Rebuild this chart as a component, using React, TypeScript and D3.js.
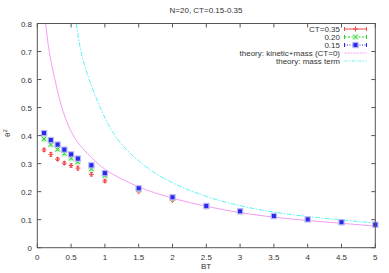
import React from "react";
import * as d3 from "d3";

const W = 389;
const H = 273;
const margin = { top: 23.5, right: 13.7, bottom: 25.3, left: 37.3 };

// measured BT values
const bt = [0.1, 0.2, 0.3, 0.4, 0.5, 0.6, 0.8, 1, 1.5, 2, 2.5, 3, 3.5, 4, 4.5, 5];
const ct035 = [0.349, 0.333, 0.316, 0.302, 0.293, 0.284, 0.262, 0.238, 0.2, 0.169, 0.145, 0.128, 0.111, 0.1, 0.09, 0.081];
const ct035Err = [0.006, 0.007, 0.005, 0.005, 0.006, 0.007, 0.006, 0.005, 0.004, 0.004, 0.003, 0.003, 0.003, 0.003, 0.003, 0.003];
const ct020 = [0.388, 0.368, 0.351, 0.336, 0.319, 0.306, 0.281, 0.257, 0.207, 0.176, 0.148, 0.13, 0.113, 0.101, 0.091, 0.082];
const ct020Err = [0.004, 0.004, 0.004, 0.004, 0.004, 0.004, 0.004, 0.004, 0.003, 0.003, 0.003, 0.003, 0.003, 0.003, 0.003, 0.003];
const ct015 = [0.409, 0.384, 0.368, 0.35, 0.333, 0.318, 0.294, 0.266, 0.212, 0.18, 0.149, 0.13, 0.113, 0.101, 0.091, 0.082];
const ct015Err = [0.004, 0.004, 0.004, 0.004, 0.004, 0.004, 0.004, 0.004, 0.003, 0.003, 0.003, 0.003, 0.003, 0.003, 0.003, 0.003];

// theory curves
const kinBT = [0.123, 0.15, 0.177, 0.22, 0.261, 0.31, 0.36, 0.42, 0.48, 0.56, 0.68, 0.8, 0.9, 1, 1.25, 1.5, 2, 2.5, 3, 3.5, 4, 4.5, 5];
const kinVal = [0.8, 0.745, 0.7, 0.645, 0.6, 0.548, 0.503, 0.46, 0.425, 0.39, 0.352, 0.322, 0.299, 0.28, 0.245, 0.217, 0.177, 0.148, 0.125, 0.109, 0.097, 0.087, 0.077];
const massBT = [0.576, 0.63, 0.7, 0.79, 0.87, 0.95, 1.05, 1.15, 1.3, 1.5, 1.75, 2, 2.5, 3, 3.5, 4, 4.5, 5];
const massVal = [0.8, 0.72, 0.65, 0.585, 0.535, 0.49, 0.44, 0.4, 0.355, 0.31, 0.265, 0.232, 0.183, 0.15, 0.127, 0.111, 0.099, 0.088];

const xTicks = [0, 0.5, 1, 1.5, 2, 2.5, 3, 3.5, 4, 4.5, 5];
const yTicks = [0, 0.1, 0.2, 0.3, 0.4, 0.5, 0.6, 0.7, 0.8];

const RED = "#f04848";
const GREEN = "#28d028";
const BLUE = "#2a2ae8";
const MAGENTA = "#f49cf4";
const CYAN = "#5cf2f2";
const AXIS = "#555";
const FONT = "Liberation Sans, Arial, sans-serif";

export default function App() {
  const x = d3.scaleLinear().domain([0, 5]).range([margin.left, W - margin.right]);
  const y = d3.scaleLinear().domain([0, 0.8]).range([H - margin.bottom, margin.top]);

  const line = d3
    .line<[number, number]>()
    .x((d) => x(d[0]))
    .y((d) => y(d[1]))
    .curve(d3.curveMonotoneX);

  const kin = line(kinBT.map((b, i) => [b, kinVal[i]]) as [number, number][]) || "";
  const mass = line(massBT.map((b, i) => [b, massVal[i]]) as [number, number][]) || "";

  const errBar = (b: number, v: number, e: number, color: string, key: string) => {
    const px = x(b);
    const y1 = y(v + e);
    const y2 = y(v - e);
    return (
      <g key={key} stroke={color} strokeWidth={1}>
        <line x1={px} x2={px} y1={y1} y2={y2} />
        <line x1={px - 1.5} x2={px + 1.5} y1={y1} y2={y1} />
        <line x1={px - 1.5} x2={px + 1.5} y1={y2} y2={y2} />
      </g>
    );
  };

  const plus = (px: number, py: number, color: string, key: string) => (
    <g key={key} stroke={color} strokeWidth={1}>
      <line x1={px - 2.5} x2={px + 2.5} y1={py} y2={py} />
      <line x1={px} x2={px} y1={py - 2.5} y2={py + 2.5} />
    </g>
  );
  const cross = (px: number, py: number, color: string, key: string) => (
    <g key={key} stroke={color} strokeWidth={1}>
      <rect x={px - 3} y={py - 3} width={6} height={6} fill="#c8f4c8" stroke="none" opacity={0.7} />
      <line x1={px - 2.2} x2={px + 2.2} y1={py - 2.2} y2={py + 2.2} />
      <line x1={px - 2.2} x2={px + 2.2} y1={py + 2.2} y2={py - 2.2} />
    </g>
  );
  const square = (px: number, py: number, key: string) => (
    <g key={key}>
      <rect x={px - 3.2} y={py - 3.2} width={6.4} height={6.4} fill="#b8b8f8" />
      <rect x={px - 2} y={py - 2} width={4} height={4} fill={BLUE} />
    </g>
  );

  const legendRows = [
    { label: "CT=0.35", color: RED, dash: undefined, kind: "plus" },
    { label: "0.20", color: GREEN, dash: "2,1.5", kind: "cross" },
    { label: "0.15", color: BLUE, dash: "1,1.5", kind: "square" },
    { label: "theory: kinetic+mass (CT=0)", color: MAGENTA, dash: "2,1", kind: "line" },
    { label: "theory: mass term", color: CYAN, dash: "3,1.5,1,1.5", kind: "line" },
  ];
  const lgX1 = 344.5;
  const lgX2 = 366.5;
  const lgXm = (lgX1 + lgX2) / 2;

  return (
    <svg width={W} height={H} style={{ position: "absolute", left: 0, top: 0, background: "#fff" }}>
      <defs>
        <clipPath id="plot-clip">
          <rect x={margin.left} y={margin.top} width={W - margin.left - margin.right} height={H - margin.top - margin.bottom} />
        </clipPath>
      </defs>

      {/* title */}
      <text x={206} y={13} textAnchor="middle" fontFamily={FONT} fontSize={8} fill="#333">
        N=20, CT=0.15-0.35
      </text>

      {/* theory curves */}
      <g clipPath="url(#plot-clip)" fill="none">
        <path d={kin} stroke={MAGENTA} strokeWidth={1} />
        <path d={mass} stroke={CYAN} strokeWidth={1} strokeDasharray="5,1.5,1.5,1.5" />
      </g>

      {/* data */}
      <g>
        {bt.map((b, i) => errBar(b, ct035[i], ct035Err[i], RED, "re" + i))}
        {bt.map((b, i) => plus(x(b), y(ct035[i]), RED, "rp" + i))}
        {bt.map((b, i) => errBar(b, ct020[i], ct020Err[i], GREEN, "ge" + i))}
        {bt.map((b, i) => cross(x(b), y(ct020[i]), GREEN, "gp" + i))}
        {bt.map((b, i) => square(x(b), y(ct015[i]), "bp" + i))}
        {bt.map((b, i) => errBar(b, ct015[i], ct015Err[i], BLUE, "be" + i))}
      </g>

      {/* frame */}
      <rect
        x={margin.left}
        y={margin.top}
        width={W - margin.left - margin.right}
        height={H - margin.top - margin.bottom}
        fill="none"
        stroke={AXIS}
        strokeWidth={1}
      />

      {/* x ticks */}
      {xTicks.map((t) => (
        <g key={"xt" + t}>
          <line x1={x(t)} x2={x(t)} y1={y(0)} y2={y(0) - 4} stroke={AXIS} />
          <line x1={x(t)} x2={x(t)} y1={y(0.8)} y2={y(0.8) + 4} stroke={AXIS} />
          <text x={x(t)} y={y(0) + 12} textAnchor="middle" fontFamily={FONT} fontSize={8} fill="#333">
            {d3.format("")(t)}
          </text>
        </g>
      ))}

      {/* y ticks */}
      {yTicks.map((t) => (
        <g key={"yt" + t}>
          <line x1={x(0)} x2={x(0) + 4} y1={y(t)} y2={y(t)} stroke={AXIS} />
          <line x1={x(5)} x2={x(5) - 4} y1={y(t)} y2={y(t)} stroke={AXIS} />
          <text x={32} y={y(t) + 3} textAnchor="end" fontFamily={FONT} fontSize={8} fill="#333">
            {t === 0 ? "0" : d3.format(".1f")(t)}
          </text>
        </g>
      ))}

      {/* axis labels */}
      <text x={206} y={269} textAnchor="middle" fontFamily={FONT} fontSize={8} fill="#333">
        BT
      </text>
      <text
        transform="translate(10,133) rotate(-90)"
        textAnchor="middle"
        fontFamily={FONT}
        fontSize={8}
        fill="#333"
      >
        θ<tspan dy={-3} fontSize={6}>2</tspan>
      </text>

      {/* legend */}
      {legendRows.map((r, i) => {
        const ly = 29 + i * 8;
        return (
          <g key={"lg" + i}>
            <text x={340} y={ly + 3} textAnchor="end" fontFamily={FONT} fontSize={8} fill="#333">
              {r.label}
            </text>
            <line x1={lgX1} x2={lgX2} y1={ly} y2={ly} stroke={r.color} strokeWidth={1} strokeDasharray={r.dash} />
            {r.kind !== "line" && (
              <g stroke={r.color}>
                <line x1={lgX1} x2={lgX1} y1={ly - 2} y2={ly + 2} />
                <line x1={lgX2} x2={lgX2} y1={ly - 2} y2={ly + 2} />
              </g>
            )}
            {r.kind === "plus" && plus(lgXm, ly, r.color, "lgp")}
            {r.kind === "cross" && cross(lgXm, ly, r.color, "lgc")}
            {r.kind === "square" && square(lgXm, ly, "lgs")}
          </g>
        );
      })}
    </svg>
  );
}
